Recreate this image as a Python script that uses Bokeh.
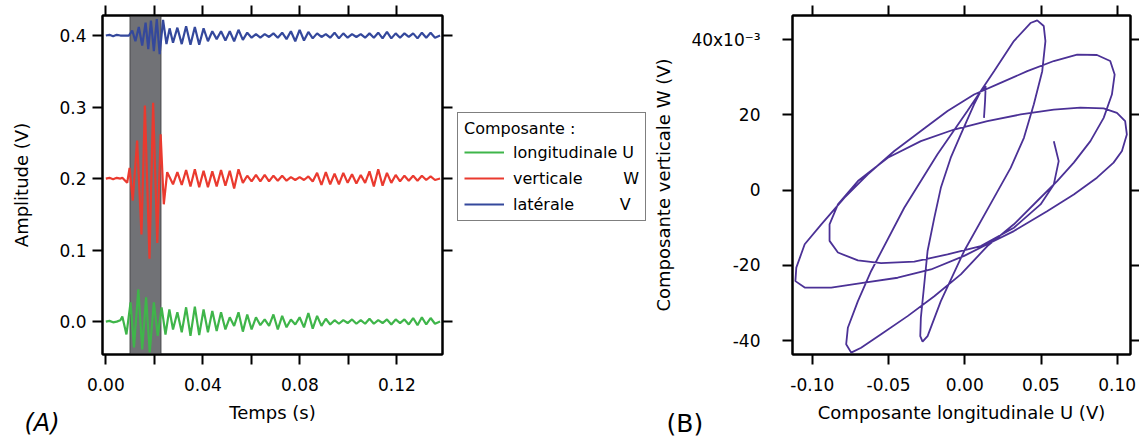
from bokeh.plotting import figure
from bokeh.models import (FixedTicker, LinearAxis, Legend, LegendItem, BoxAnnotation,
                          Title, NumeralTickFormatter, Range1d)
from bokeh.layouts import row
from bokeh.embed import file_html
from bokeh.resources import INLINE

FONT = "DejaVu Sans"

# ---------------- Panel (A) data : signals vs time ----------------
offset_u = 0.0
offset_w = 0.2
offset_v = 0.4

lead_t = [0.0000, 0.0015, 0.0030, 0.0045, 0.0060, 0.0068]
tail_t = [0.0277, 0.0295, 0.0313, 0.0331, 0.0349, 0.0367, 0.0385, 0.0403, 0.0421, 0.0439,
          0.0457, 0.0475, 0.0493, 0.0511, 0.0529, 0.0547, 0.0565, 0.0583, 0.0601, 0.0619,
          0.0637, 0.0655, 0.0673, 0.0691, 0.0709, 0.0727, 0.0745, 0.0763, 0.0781, 0.0799,
          0.0817, 0.0835, 0.0853, 0.0871, 0.0889, 0.0907, 0.0925, 0.0943, 0.0961, 0.0979,
          0.0997, 0.1015, 0.1033, 0.1051, 0.1069, 0.1087, 0.1105, 0.1123, 0.1141, 0.1159,
          0.1177, 0.1195, 0.1213, 0.1231, 0.1249, 0.1267, 0.1285, 0.1303, 0.1321, 0.1339,
          0.1357]
end_t = [0.1378]

# longitudinale U (green)
u_lead = [0.000, 0.001, -0.001, 0.000, 0.002, 0.007]
u_burst_t = [0.0085, 0.0102, 0.0116, 0.0134, 0.0150, 0.0166, 0.0181, 0.0198, 0.0214, 0.0230,
             0.0246, 0.0262]
u_burst = [-0.018, 0.027, -0.036, 0.045, -0.039, 0.034, -0.043, 0.027, -0.020, 0.020,
           -0.018, 0.017]
u_tail = [-0.011, 0.013, -0.015, 0.020, -0.020, 0.021, -0.019, 0.017, -0.015, 0.015,
          -0.013, 0.013, -0.011, 0.006, -0.006, 0.013, -0.014, 0.010, -0.011, 0.006,
          -0.005, 0.003, -0.006, 0.010, -0.011, 0.008, -0.008, 0.003, -0.004, 0.006,
          -0.008, 0.012, -0.010, 0.008, -0.006, 0.004, -0.004, 0.002, -0.003, 0.002,
          -0.002, 0.003, -0.003, 0.002, -0.003, 0.004, -0.003, 0.002, -0.002, 0.003,
          -0.004, 0.003, -0.002, 0.003, -0.004, 0.005, -0.005, 0.006, -0.004, 0.005,
          -0.003]

# verticale W (red)
w_lead = [0.000, 0.001, -0.001, 0.001, 0.000, 0.001]
w_burst_t = [0.0088, 0.0098, 0.0111, 0.0129, 0.0147, 0.0161, 0.0180, 0.0195, 0.0212, 0.0226,
             0.0239, 0.0253]
w_burst = [-0.006, 0.015, -0.031, 0.053, -0.078, 0.102, -0.112, 0.106, -0.090, 0.062,
           -0.036, 0.009]
w_tail = [-0.008, 0.009, -0.009, 0.012, -0.011, 0.013, -0.012, 0.011, -0.012, 0.010,
          -0.011, 0.012, -0.010, 0.011, -0.014, 0.013, -0.006, 0.004, -0.004, 0.005,
          -0.004, 0.005, -0.004, 0.004, -0.003, 0.004, -0.003, 0.002, -0.002, 0.002,
          -0.002, 0.003, -0.004, 0.008, -0.009, 0.009, -0.008, 0.007, -0.008, 0.008,
          -0.006, 0.006, -0.007, 0.005, -0.006, 0.010, -0.011, 0.013, -0.010, 0.008,
          -0.006, 0.005, -0.004, 0.004, -0.003, 0.004, -0.003, 0.004, -0.002, 0.003,
          -0.002]

# latérale V (blue)
v_lead = [0.000, 0.001, -0.001, 0.001, 0.000, 0.000]
v_burst_t = [0.0095, 0.0109, 0.0122, 0.0136, 0.0150, 0.0164, 0.0175, 0.0186, 0.0198, 0.0210,
             0.0222, 0.0236, 0.0250, 0.0263]
v_burst = [0.000, 0.007, -0.008, 0.012, -0.014, 0.018, -0.019, 0.021, -0.022, 0.023,
           -0.026, 0.022, -0.012, 0.010]
v_tail = [-0.010, 0.011, -0.012, 0.013, -0.013, 0.012, -0.013, 0.010, -0.008, 0.006,
          -0.005, 0.006, -0.007, 0.006, -0.008, 0.008, -0.006, 0.004, -0.003, 0.002,
          -0.003, 0.002, -0.002, 0.003, -0.003, 0.004, -0.005, 0.006, -0.008, 0.008,
          -0.007, 0.005, -0.004, 0.003, -0.002, 0.002, -0.003, 0.004, -0.004, 0.003,
          -0.003, 0.002, -0.002, 0.002, -0.003, 0.003, -0.003, 0.004, -0.004, 0.005,
          -0.004, 0.003, -0.003, 0.003, -0.002, 0.003, -0.004, 0.004, -0.003, 0.004,
          -0.003]
end_val = [0.000]

# analysis window (gray band)
window_start = 0.0099
window_end = 0.0228

# ---------------- Panel (B) data : particle motion ----------------
loop_u = [0.0126, 0.0133, 0.0137, 0.0105, 0.0061, -0.0026, -0.0092, -0.0157, -0.0200, -0.0244,
          -0.0266, -0.0288, -0.0292, -0.0277, -0.0244, -0.0157, -0.0004, 0.0192, 0.0301, 0.0388,
          0.0453, 0.0508, 0.0529, 0.0518, 0.0475, 0.0431, 0.0322, 0.0192, 0.0017, -0.0179,
          -0.0397, -0.0614, -0.0701, -0.0767, -0.0778, -0.0745, -0.0680, -0.0549, -0.0375, -0.0200,
          -0.0026, 0.0148, 0.0322, 0.0475, 0.0606, 0.0715, 0.0824, 0.0911, 0.0965, 0.0983,
          0.0954, 0.0867, 0.0737, 0.0584, 0.0410, 0.0235, 0.0061, -0.0113, -0.0288, -0.0462,
          -0.0636, -0.0789, -0.0941, -0.1050, -0.1105, -0.1111, -0.1050, -0.0876, -0.0658, -0.0440,
          -0.0222, -0.0004, 0.0148, 0.0322, 0.0540, 0.0715, 0.0867, 0.0976, 0.1031, 0.1063,
          0.1052, 0.0998, 0.0911, 0.0758, 0.0584, 0.0367, 0.0148, -0.0070, -0.0288, -0.0505,
          -0.0701, -0.0832, -0.0887, -0.0887, -0.0832, -0.0701, -0.0549, -0.0331, -0.0113, 0.0105,
          0.0322, 0.0497, 0.0584, 0.0616, 0.0584]
loop_w_mv = [19.2, 23.6, 27.6, 26.3, 22.8, 14.8, 8.6, 0.6, -7.4, -16.2,
             -25.1, -33.9, -38.8, -40.3, -38.8, -29.5, -16.2, -2.0, 5.9, 13.9,
             22.8, 31.6, 39.6, 43.6, 45.1, 44.4, 39.6, 31.6, 21.0, 9.5,
             -4.7, -21.5, -29.5, -36.6, -41.0, -43.2, -41.9, -38.3, -33.5, -28.2,
             -22.4, -14.9, -9.1, -2.9, 2.4, 7.3, 13.0, 19.2, 25.4, 30.7,
             34.3, 35.9, 36.0, 34.3, 31.6, 28.5, 25.4, 21.0, 15.7, 10.4,
             4.2, -2.0, -9.1, -14.4, -20.6, -24.2, -25.9, -25.9, -24.6, -23.3,
             -21.1, -17.5, -14.4, -10.9, -5.6, -1.2, 3.3, 7.3, 10.4, 14.8,
             18.3, 20.5, 21.7, 21.9, 21.4, 20.1, 18.3, 16.1, 13.0, 8.6,
             2.4, -3.8, -9.1, -13.5, -16.6, -18.7, -19.4, -19.0, -17.1, -14.9,
             -10.0, -3.8, 1.5, 7.7, 13.0]

a_xticks = [0.0, 0.04, 0.08, 0.12]
a_xminor = [0.02, 0.06, 0.10]
a_yticks = [0.0, 0.1, 0.2, 0.3, 0.4]
b_xticks = [-0.10, -0.05, 0.0, 0.05, 0.10]
b_yticks = [-40, -20, 0, 20, 40]

legend_title = "Composante :"
nb = "\u00a0"
legend_labels = ["longitudinale U", "verticale" + nb * 8 + "W", "latérale" + nb * 9 + "V"]

GREEN = "#3fb54a"
RED = "#ea3a2f"
BLUE = "#34489c"
PURPLE = "#4b3196"
GRAY = "#717276"


def build(lead, bt, bv, tail, offset):
    t = lead_t + bt + tail_t + end_t
    a = lead + bv + tail + end_val
    return t, [offset + v for v in a]


def style_axis(ax, show_labels=True, tick_out=10, standoff=6):
    ax.axis_line_color = "black"
    ax.axis_line_width = 2
    ax.major_tick_line_color = "black"
    ax.major_tick_line_width = 2
    ax.major_tick_in = 0
    ax.major_tick_out = tick_out
    ax.minor_tick_line_color = "black"
    ax.minor_tick_line_width = 2
    ax.minor_tick_in = 0
    ax.minor_tick_out = tick_out
    ax.major_label_text_font = FONT
    ax.major_label_text_font_size = "17px"
    ax.major_label_text_color = "black"
    ax.major_label_standoff = standoff
    ax.axis_label_text_font = FONT
    ax.axis_label_text_font_size = "18px"
    ax.axis_label_text_font_style = "normal"
    ax.axis_label_text_color = "black"
    if not show_labels:
        ax.major_label_text_font_size = "0px"
        ax.major_label_text_color = None
        ax.major_label_standoff = standoff


tu, yu = build(u_lead, u_burst_t, u_burst, u_tail, offset_u)
tw, yw = build(w_lead, w_burst_t, w_burst, w_tail, offset_w)
tv, yv = build(v_lead, v_burst_t, v_burst, v_tail, offset_v)

# ---------------- Figure A ----------------
pA = figure(width=457, height=441, x_range=Range1d(-0.00137, 0.1388),
            y_range=Range1d(-0.046, 0.428), output_backend="svg", toolbar_location=None,
            min_border_left=102, min_border_right=15, min_border_top=15, min_border_bottom=87)
pA.grid.visible = False
pA.outline_line_color = "black"
pA.outline_line_width = 2
pA.background_fill_color = "white"
pA.border_fill_color = "white"

pA.add_layout(BoxAnnotation(left=window_start, right=window_end, fill_color=GRAY, fill_alpha=1.0,
                            line_color="black", line_width=1.5, level="underlay"))

pA.line(tu, yu, line_color=GREEN, line_width=2.2)
pA.line(tw, yw, line_color=RED, line_width=2.2)
pA.line(tv, yv, line_color=BLUE, line_width=2.2)

xa = pA.xaxis[0]
xa.ticker = FixedTicker(ticks=a_xticks, minor_ticks=a_xminor)
xa.formatter = NumeralTickFormatter(format="0.00")
xa.axis_label = "Temps (s)"
style_axis(xa, standoff=13)
xa.axis_label_standoff = 8

ya = pA.yaxis[0]
ya.ticker = FixedTicker(ticks=a_yticks)
ya.formatter = NumeralTickFormatter(format="0.0")
ya.axis_label = "Amplitude (V)"
style_axis(ya, standoff=6)
ya.axis_label_standoff = 24

ax_top = LinearAxis(ticker=FixedTicker(ticks=a_xticks, minor_ticks=a_xminor))
style_axis(ax_top, show_labels=False, standoff=0)
pA.add_layout(ax_top, "above")
ax_right = LinearAxis(ticker=FixedTicker(ticks=a_yticks))
style_axis(ax_right, show_labels=False, standoff=0)
pA.add_layout(ax_right, "right")

pA.add_layout(Title(text="(A)", align="left", offset=-78, standoff=-34, vertical_align="top",
                    text_font=FONT, text_font_size="24px", text_font_style="italic",
                    text_color="black"), "below")

# ---------------- Legend figure (same series, plotted outside its own view) ----------------
pL = figure(width=193, height=441, x_range=Range1d(1.0, 2.0), y_range=Range1d(1.0, 2.0),
            output_backend="svg", toolbar_location=None,
            min_border_left=0, min_border_right=0, min_border_top=15, min_border_bottom=87,
            x_axis_location=None, y_axis_location=None)
pL.grid.visible = False
pL.outline_line_color = None
pL.background_fill_color = "white"
pL.border_fill_color = "white"
lg = pL.line(tu, yu, line_color=GREEN, line_width=2.2)
lr = pL.line(tw, yw, line_color=RED, line_width=2.2)
lb = pL.line(tv, yv, line_color=BLUE, line_width=2.2)
legend = Legend(items=[LegendItem(label=legend_labels[0], renderers=[lg]),
                       LegendItem(label=legend_labels[1], renderers=[lr]),
                       LegendItem(label=legend_labels[2], renderers=[lb])],
                location=(0, 133), title=legend_title,
                title_text_font=FONT, title_text_font_size="16px", title_text_font_style="normal",
                title_text_color="black", title_standoff=4,
                label_text_font=FONT, label_text_font_size="16px", label_text_color="black",
                label_height=20, glyph_height=20, glyph_width=40, label_standoff=9,
                spacing=6, padding=6, margin=0,
                border_line_color="black", border_line_width=1,
                background_fill_color="white", background_fill_alpha=1.0)
pL.add_layout(legend)

# ---------------- Figure B ----------------
pB = figure(width=489, height=441, x_range=Range1d(-0.113, 0.1087),
            y_range=Range1d(-43.7, 46.4), output_backend="svg", toolbar_location=None,
            min_border_left=141, min_border_right=9, min_border_top=15, min_border_bottom=87)
pB.grid.visible = False
pB.outline_line_color = "black"
pB.outline_line_width = 2
pB.background_fill_color = "white"
pB.border_fill_color = "white"

pB.line(loop_u, loop_w_mv, line_color=PURPLE, line_width=1.8)

xb = pB.xaxis[0]
xb.ticker = FixedTicker(ticks=b_xticks)
xb.formatter = NumeralTickFormatter(format="0.00")
xb.axis_label = "Composante longitudinale U (V)"
style_axis(xb, standoff=13)
xb.axis_label_standoff = 8

yb = pB.yaxis[0]
yb.ticker = FixedTicker(ticks=b_yticks)
yb.formatter = NumeralTickFormatter(format="0")
yb.major_label_overrides = {40: "40x10\u207b\u00b3"}
yb.axis_label = "Composante verticale W (V)"
style_axis(yb, tick_out=10, standoff=22)
yb.axis_label_standoff = 14

bx_top = LinearAxis(ticker=FixedTicker(ticks=b_xticks))
style_axis(bx_top, show_labels=False, standoff=0)
pB.add_layout(bx_top, "above")
by_right = LinearAxis(ticker=FixedTicker(ticks=b_yticks))
style_axis(by_right, show_labels=False, tick_out=9, standoff=0)
pB.add_layout(by_right, "right")

pB.add_layout(Title(text="(B)", align="left", offset=-126, standoff=-34, vertical_align="top",
                    text_font=FONT, text_font_size="25px", text_font_style="normal",
                    text_color="black"), "below")

layout = row(pA, pL, pB)
open("out.html", "w").write(file_html(layout, INLINE))
